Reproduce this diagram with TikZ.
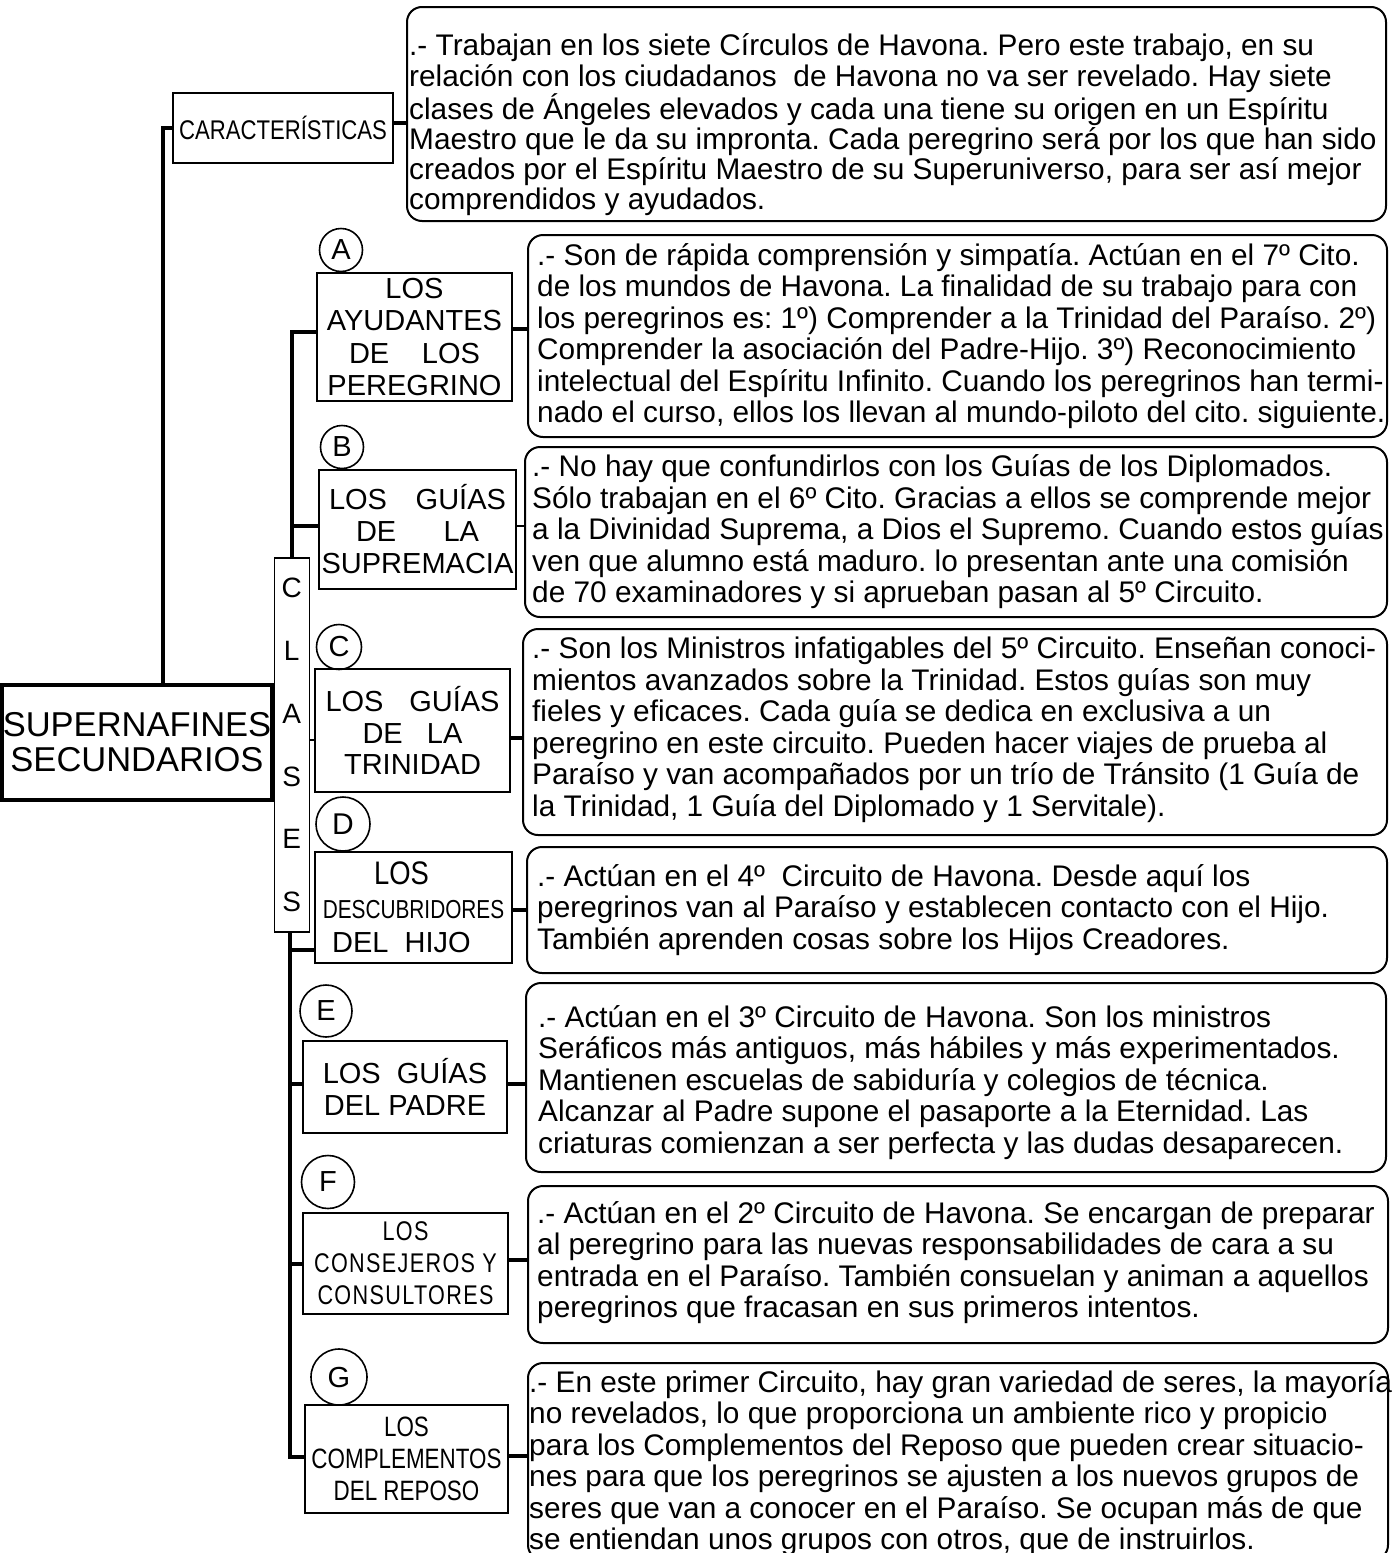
\documentclass[tikz,border=0pt]{standalone}
\usepackage{fontspec}
\setmainfont{Liberation Sans}
\newfontfamily\bodyf{Liberation Sans}
\newfontfamily\condf[FakeStretch=0.8]{Liberation Sans}
\newfontfamily\condcar[FakeStretch=0.82]{Liberation Sans}
\newfontfamily\condd[FakeStretch=0.84]{Liberation Sans}
\newfontfamily\condF[FakeStretch=0.8,LetterSpace=5]{Liberation Sans}
\newcommand\bodyfont{\bodyf\fontsize{29.8}{31.5}\selectfont}
\frenchspacing
\tikzset{
  conn/.style={line width=4pt},
  connthin/.style={line width=2.2pt},
  lbox/.style={draw, line width=1.8pt, rectangle, inner sep=0pt, align=center},
  tbox/.style={draw, line width=2pt, rounded corners=15pt, rectangle, inner sep=0pt},
  txt/.style={align=left, inner sep=0pt, anchor=west, font=\bodyfont},
  letter/.style={draw, circle, line width=1.6pt, inner sep=0pt, font=\fontsize{29}{29}\selectfont},
}
\begin{document}
\begin{tikzpicture}[x=1pt,y=-1pt]
\useasboundingbox (0,0) rectangle (1400,1553);

% root
\node[lbox, line width=4pt, minimum width=270pt, minimum height=115pt,
      font=\fontsize{34.5}{35}\selectfont] (root) at (137,742.5) {SUPERNAFINES\\SECUNDARIOS};
% CLASES
\node[lbox, line width=1.5pt, minimum width=35pt, minimum height=374pt,
      font=\fontsize{28}{62.8}\selectfont] (clases) at (291.75,745) {C\\L\\A\\S\\E\\S};

% caracteristicas
\node[lbox, minimum width=220pt, minimum height=70pt,
      font=\condcar\fontsize{27}{30}\selectfont] (car) at (283,128) {CARACTERÍSTICAS};
\node[tbox, minimum width=979pt, minimum height=214pt] (bChar) at (896.5,114) {};
\node[txt, font=\bodyf\fontsize{29.8}{30.3}\selectfont] (tChar) at ([xshift=3pt,yshift=-11pt]bChar.west)
 {.- Trabajan en los siete Círculos de Havona. Pero este trabajo, en su\\
  relación con los ciudadanos\ \ de Havona no va ser revelado. Hay siete\\
  clases de Ángeles elevados y cada una tiene su origen en un Espíritu\\
  Maestro que le da su impronta. Cada peregrino será por los que han sido\\
  creados por el Espíritu Maestro de su Superuniverso, para ser así mejor\\
  comprendidos y ayudados.};

% A
\node[letter, minimum size=43pt] (cA) at (341,250) {A};
\node[lbox, minimum width=195pt, minimum height=128pt,
      font=\fontsize{29}{32.3}\selectfont] (boxA) at (414.5,337)
 {LOS\\AYUDANTES\\ \makebox[131pt][s]{DE LOS}\\PEREGRINO};
\node[tbox, minimum width=859pt, minimum height=202pt] (bA) at (957.5,336) {};
\node[txt] (tA) at ([xshift=10pt]bA.west)
 {.- Son de rápida comprensión y simpatía. Actúan en el 7º Cito.\\
  de los mundos de Havona. La finalidad de su trabajo para con\\
  los peregrinos es: 1º) Comprender a la Trinidad del Paraíso. 2º)\\
  Comprender la asociación del Padre-Hijo. 3º) Reconocimiento\\
  intelectual del Espíritu Infinito. Cuando los peregrinos han termi-\\
  nado el curso, ellos los llevan al mundo-piloto del cito. siguiente.};

% B
\node[letter, minimum size=43pt] (cB) at (342,447) {B};
\node[lbox, minimum width=197pt, minimum height=119pt,
      font=\fontsize{29}{32}\selectfont] (boxB) at (417.5,529.5)
 {\makebox[177pt][s]{LOS GUÍAS}\\ \makebox[123pt][s]{DE LA}\\SUPREMACIA};
\node[tbox, minimum width=862pt, minimum height=170pt] (bB) at (956,532) {};
\node[txt] (tB) at ([xshift=8pt]bB.west)
 {.- No hay que confundirlos con los Guías de los Diplomados.\\
  Sólo trabajan en el 6º Cito. Gracias a ellos se comprende mejor\\
  a la Divinidad Suprema, a Dios el Supremo. Cuando estos guías\\
  ven que alumno está maduro. lo presentan ante una comisión\\
  de 70 examinadores y si aprueban pasan al 5º Circuito.};

% C
\node[letter, minimum size=45pt] (cC) at (339,647) {C};
\node[lbox, minimum width=195pt, minimum height=123pt,
      font=\fontsize{29}{31.5}\selectfont] (boxC) at (412.5,730.5)
 {\makebox[174pt][s]{LOS GUÍAS}\\ \makebox[100pt][s]{DE LA}\\TRINIDAD};
\node[tbox, minimum width=864pt, minimum height=206pt] (bCc) at (955,732) {};
\node[txt] (tC) at ([xshift=10pt,yshift=2pt]bCc.west)
 {.- Son los Ministros infatigables del 5º Circuito. Enseñan conoci-\\
  mientos avanzados sobre la Trinidad. Estos guías son muy\\
  fieles y eficaces. Cada guía se dedica en exclusiva a un\\
  peregrino en este circuito. Pueden hacer viajes de prueba al\\
  Paraíso y van acompañados por un trío de Tránsito (1 Guía de\\
  la Trinidad, 1 Guía del Diplomado y 1 Servitale).};

% D
\node[letter, minimum size=54pt, font=\fontsize{30}{30}\selectfont] (cD) at (343,824) {D};
\node[lbox, minimum width=197pt, minimum height=111pt,
      font=\fontsize{29}{34}\selectfont] (boxD) at (413.5,907.5)
 {\hspace*{-24pt}{\condd\fontsize{32.6}{34}\selectfont LOS}\\ {\condf\fontsize{26}{34}\selectfont DESCUBRIDORES}\\ \hspace*{-24pt}DEL\ \ HIJO};
\node[tbox, minimum width=860pt, minimum height=126pt] (bD) at (957,910) {};
\node[txt] (tD) at ([xshift=11pt]bD.west)
 {.- Actúan en el 4º\ \ Circuito de Havona. Desde aquí los\\
  peregrinos van al Paraíso y establecen contacto con el Hijo.\\
  También aprenden cosas sobre los Hijos Creadores.};

% E
\node[letter, minimum size=52pt] (cE) at (326,1011) {E};
\node[lbox, minimum width=204pt, minimum height=92pt,
      font=\fontsize{29}{32.4}\selectfont] (boxE) at (405,1087)
 {LOS\ \ GUÍAS\\DEL PADRE};
\node[tbox, minimum width=860pt, minimum height=189pt] (bE) at (956,1077.5) {};
\node[txt] (tE) at ([xshift=13pt,yshift=-5pt]bE.west)
 {.- Actúan en el 3º Circuito de Havona. Son los ministros\\
  Seráficos más antiguos, más hábiles y más experimentados.\\
  Mantienen escuelas de sabiduría y colegios de técnica.\\
  Alcanzar al Padre supone el pasaporte a la Eternidad. Las\\
  criaturas comienzan a ser perfecta y las dudas desaparecen.};

% F
\node[letter, minimum size=53pt] (cF) at (328,1182) {F};
\node[lbox, minimum width=205pt, minimum height=101pt,
      font=\condF\fontsize{27}{32}\selectfont] (boxF) at (405.5,1263.5)
 {LOS\\CONSEJEROS Y\\CONSULTORES};
\node[tbox, minimum width=860pt, minimum height=157pt] (bF) at (958,1264.5) {};
\node[txt] (tF) at ([xshift=10pt,yshift=2pt]bF.west)
 {.- Actúan en el 2º Circuito de Havona. Se encargan de preparar\\
  al peregrino para las nuevas responsabilidades de cara a su\\
  entrada en el Paraíso. También consuelan y animan a aquellos\\
  peregrinos que fracasan en sus primeros intentos.};

% G
\node[letter, minimum size=56pt] (cG) at (339,1377) {G};
\node[lbox, minimum width=203pt, minimum height=108pt,
      font=\condf\fontsize{28}{32}\selectfont] (boxG) at (406.5,1459)
 {LOS\\COMPLEMENTOS\\DEL REPOSO};
\node[tbox, minimum width=860pt, minimum height=197pt] (bG) at (958,1461.5) {};
\node[txt] (tG) at ([xshift=2pt,yshift=-1.5pt]bG.west)
 {.- En este primer Circuito, hay gran variedad de seres, la mayoría\\
  no revelados, lo que proporciona un ambiente rico y propicio\\
  para los Complementos del Reposo que pueden crear situacio-\\
  nes para que los peregrinos se ajusten a los nuevos grupos de\\
  seres que van a conocer en el Paraíso. Se ocupan más de que\\
  se entiendan unos grupos con otros, que de instruirlos.};

% connectors
\coordinate (jc) at (163,0);
\draw[conn] (root.north -| jc) |- (car.west);
\draw[conn] ([yshift=5pt]car.east) -- ([yshift=5pt]car.east -| bChar.west);

\coordinate (su) at (292,332);
\draw[conn] (clases.north -| su) -- (su) -- (su -| boxA.west);
\draw[conn] ([yshift=3.5pt]boxB.west -| su) -- ([yshift=3.5pt]boxB.west);
\draw[connthin] ([yshift=-9.5pt]boxC.west -| clases.east) -- ([yshift=-9.5pt]boxC.west);

\coordinate (sl) at (290,1457);
\draw[conn] (clases.south -| sl) -- (sl) -- (sl -| boxG.west);
\draw[conn] ([yshift=-42.5pt]boxD.west -| sl) -- ([yshift=-42.5pt]boxD.west);
\draw[conn] ([yshift=3pt]boxE.west -| sl) -- ([yshift=3pt]boxE.west);
\draw[conn] (boxF.west -| sl) -- (boxF.west);

\draw[conn] ([yshift=8pt]boxA.east) -- ([yshift=8pt]boxA.east -| bA.west);
\draw[connthin] ([yshift=3.5pt]boxB.east) -- ([yshift=3.5pt]boxB.east -| bB.west);
\draw[conn] ([yshift=-7pt]boxC.east) -- ([yshift=-7pt]boxC.east -| bCc.west);
\draw[conn] ([yshift=-2.5pt]boxD.east) -- ([yshift=-2.5pt]boxD.east -| bD.west);
\draw[conn] ([yshift=3pt]boxE.east) -- ([yshift=3pt]boxE.east -| bE.west);
\draw[conn] ([yshift=3.5pt]boxF.east) -- ([yshift=3.5pt]boxF.east -| bF.west);
\draw[conn] ([yshift=3pt]boxG.east) -- ([yshift=3pt]boxG.east -| bG.west);
\end{tikzpicture}
\end{document}
